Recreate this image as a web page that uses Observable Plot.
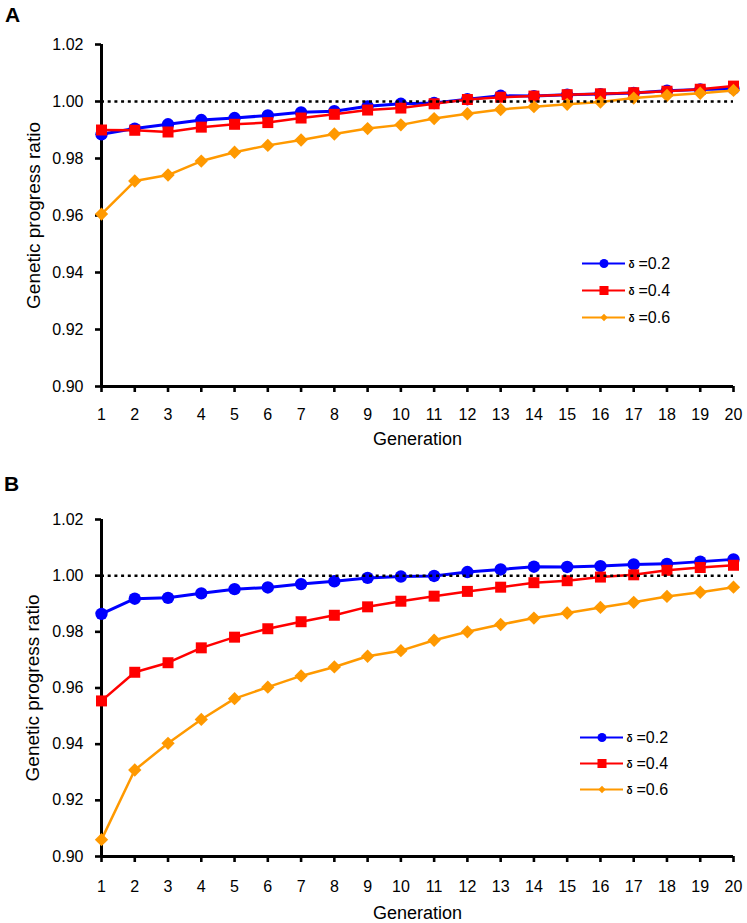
<!DOCTYPE html>
<html>
<head>
<meta charset="utf-8">
<script src="https://cdn.jsdelivr.net/npm/d3@7"></script>
<script src="https://cdn.jsdelivr.net/npm/@observablehq/plot@0.6"></script>
<style>
  body { margin: 0; background: #fff; }
  .panel { position: relative; width: 747px; }
  .tag { position: absolute; font: bold 21px "Liberation Sans", Arial, sans-serif; line-height: 1; color: #000; }
  .legend { position: absolute; }
</style>
</head>
<body>
<div id="chart"></div>
<script>
// ---- data ----
const generations = [1,2,3,4,5,6,7,8,9,10,11,12,13,14,15,16,17,18,19,20];
const deltas = ["0.2", "0.4", "0.6"];
const colors = ["#0000FF", "#FF0000", "#FF9900"];
const symbols = ["circle", "square", "diamond2"];
const yTicks = [0.90, 0.92, 0.94, 0.96, 0.98, 1.00, 1.02];
const yLabel = "Genetic progress ratio";
const xLabel = "Generation";
const panelTags = ["A", "B"];

const A_d02 = [0.9885, 0.9905, 0.9920, 0.9935, 0.9942, 0.9951, 0.9962, 0.9966, 0.9983, 0.9992, 0.9995, 1.0008, 1.0020, 1.0019, 1.0024, 1.0026, 1.0030, 1.0038, 1.0042, 1.0045];
const A_d04 = [0.9900, 0.9899, 0.9893, 0.9910, 0.9920, 0.9926, 0.9942, 0.9955, 0.9970, 0.9977, 0.9992, 1.0007, 1.0015, 1.0019, 1.0024, 1.0027, 1.0031, 1.0036, 1.0043, 1.0054];
const A_d06 = [0.9605, 0.9721, 0.9742, 0.9791, 0.9822, 0.9846, 0.9865, 0.9886, 0.9905, 0.9918, 0.9940, 0.9957, 0.9972, 0.9982, 0.9990, 0.9998, 1.0012, 1.0021, 1.0029, 1.0039];

const B_d02 = [0.9864, 0.9918, 0.9921, 0.9937, 0.9952, 0.9958, 0.9970, 0.9980, 0.9992, 0.9997, 0.9999, 1.0013, 1.0022, 1.0032, 1.0031, 1.0034, 1.0040, 1.0042, 1.0050, 1.0058];
const B_d04 = [0.9554, 0.9656, 0.9690, 0.9743, 0.9781, 0.9811, 0.9836, 0.9859, 0.9889, 0.9909, 0.9927, 0.9944, 0.9959, 0.9975, 0.9982, 0.9995, 1.0003, 1.0019, 1.0029, 1.0037];
const B_d06 = [0.9060, 0.9308, 0.9403, 0.9488, 0.9562, 0.9603, 0.9643, 0.9675, 0.9713, 0.9733, 0.9770, 0.9800, 0.9826, 0.9849, 0.9867, 0.9887, 0.9905, 0.9926, 0.9941, 0.9959];

const panelsData = [[A_d02, A_d04, A_d06], [B_d02, B_d04, B_d06]];

// ---- layout ----
const FONT = '"Liberation Sans", Arial, sans-serif';
const layouts = [
  {height: 465, mt: 44, mb: 79, tickPad: 16, xLabelDy: 53, yLabelDx: -68, tagLeft: 5, tagTop: 4, legLeft: 577, legTop: 249, legStep: 27.5},
  {height: 458, mt: 54, mb: 67, tickPad: 18, xLabelDy: 57, yLabelDx: -69, tagLeft: 4, tagTop: 8, legLeft: 575, legTop: 258, legStep: 26.5}
];
const lineWidths = [3, 2.5, 2.5];
const dotR = [6.2, 6.2, 6];
const legR = [4.5, 5.1, 3.3];

const root = document.getElementById("chart");

panelsData.forEach((series, p) => {
  const L = layouts[p];
  const rows = [];
  series.forEach((vals, s) => vals.forEach((v, i) => rows.push({gen: generations[i], value: v, delta: deltas[s]})));

  const seriesMarks = [];
  deltas.forEach((d, s) => {
    const sub = rows.filter(r => r.delta === d);
    seriesMarks.push(Plot.line(sub, {x: "gen", y: "value", stroke: colors[s], strokeWidth: lineWidths[s]}));
    seriesMarks.push(Plot.dot(sub, {x: "gen", y: "value", symbol: () => symbols[s], fill: colors[s], r: dotR[s], stroke: "none"}));
  });

  const chart = Plot.plot({
    width: 747, height: L.height,
    marginLeft: 101, marginRight: 14, marginTop: L.mt, marginBottom: L.mb,
    style: {fontFamily: FONT, fontSize: "16px", color: "#000", background: "#fff"},
    x: {domain: [1, 20]},
    y: {domain: [0.90, 1.02]},
    symbol: {domain: symbols, range: symbols},
    marks: [
      Plot.axisY({ticks: yTicks, tickFormat: d3.format(".2f"), tickSize: 6, tickPadding: 12, strokeWidth: 2.6, label: null, fontSize: 16}),
      Plot.axisX({ticks: generations, tickFormat: d => String(d), tickSize: 6, tickPadding: L.tickPad, strokeWidth: 2.6, label: null, fontSize: 16}),
      Plot.ruleX([1], {strokeWidth: 3, stroke: "#000"}),
      Plot.ruleY([0.90], {strokeWidth: 3, stroke: "#000"}),
      ...seriesMarks,
      Plot.ruleY([1], {x1: 1, x2: 20, stroke: "#000", strokeWidth: 2.5, strokeDasharray: "3,3.7"}),
      Plot.text([yLabel], {frameAnchor: "left", rotate: -90, dx: L.yLabelDx, text: d => d, fontSize: 19, textAnchor: "middle", lineAnchor: "middle"}),
      Plot.text([xLabel], {frameAnchor: "bottom", dy: L.xLabelDy, text: d => d, fontSize: 18, textAnchor: "middle", lineAnchor: "middle"})
    ]
  });

  const legend = Plot.plot({
    width: 130, height: 84,
    margin: 0,
    style: {fontFamily: FONT, fontSize: "16px", color: "#000", background: "transparent"},
    x: {domain: [0, 1], range: [5, 48], axis: null},
    y: {type: "point", padding: 0, domain: deltas, range: [13, 13 + 2 * L.legStep], axis: null},
    marks: [
      ...deltas.map((d, s) => Plot.ruleY([d], {y: v => v, x1: 0, x2: 1, stroke: colors[s], strokeWidth: 1.8})),
      ...deltas.map((d, s) => Plot.dot([d], {x: 0.5, y: v => v, symbol: () => symbols[s], fill: colors[s], r: legR[s], stroke: "none"})),
      Plot.text(deltas, {x: 1, y: d => d, text: () => "δ", dx: 6, dy: 1, fontSize: 10, fontWeight: "bold", textAnchor: "middle"}),
      Plot.text(deltas, {x: 1, y: d => d, text: d => "=" + d, dx: 13, fontSize: 16, textAnchor: "start"})
    ]
  });

  const wrap = document.createElement("div");
  wrap.className = "panel";
  wrap.style.height = L.height + "px";
  wrap.appendChild(chart);
  const tag = document.createElement("div");
  tag.className = "tag";
  tag.textContent = panelTags[p];
  tag.style.left = L.tagLeft + "px";
  tag.style.top = L.tagTop + "px";
  wrap.appendChild(tag);
  legend.classList.add("legend");
  legend.style.left = L.legLeft + "px";
  legend.style.top = L.legTop + "px";
  wrap.appendChild(legend);
  root.appendChild(wrap);
});
</script>
</body>
</html>
